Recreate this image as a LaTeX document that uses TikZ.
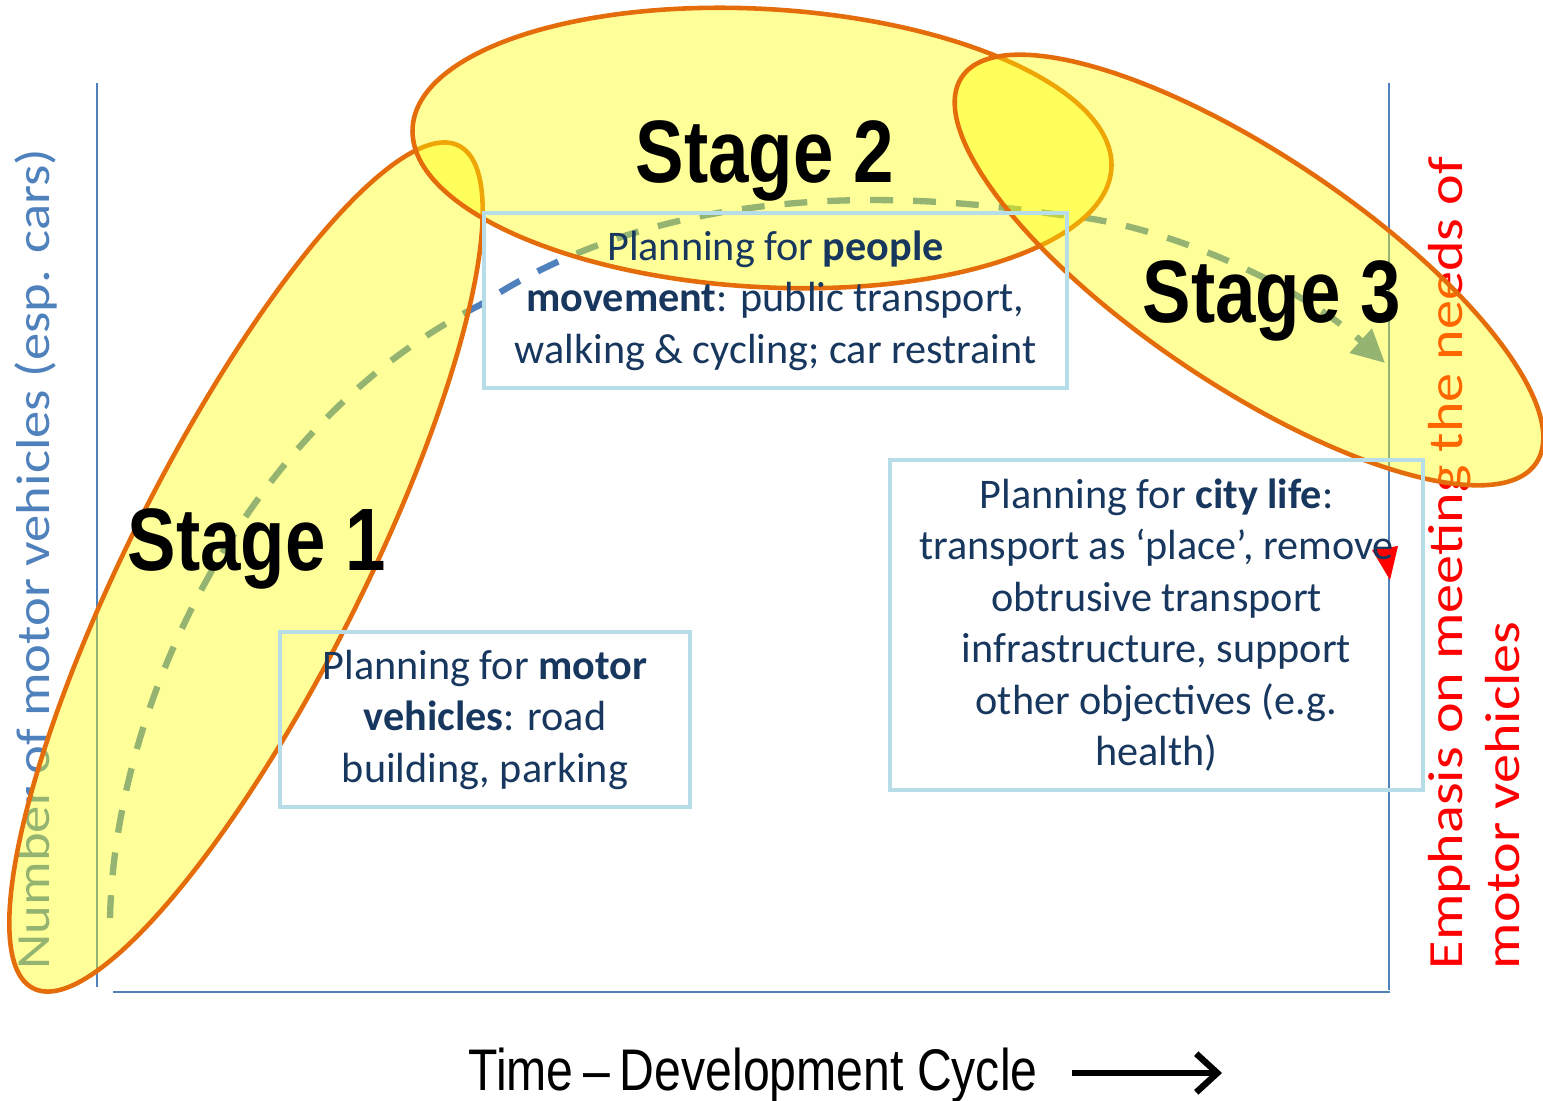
\documentclass[tikz,border=0pt]{standalone}
\usepackage{fontspec}
\setmainfont{Carlito}
\newfontfamily\stagefont[FakeStretch=0.82]{Liberation Sans}
\newfontfamily\axisfont[FakeStretch=1.15]{Carlito}
\newfontfamily\emphfont[FakeStretch=1.18]{Carlito}
\usetikzlibrary{arrows.meta}

\definecolor{axisblue}{HTML}{4F81BD}
\definecolor{boxblue}{HTML}{B7DEE8}
\definecolor{navytext}{HTML}{17375E}
\definecolor{ovalorange}{HTML}{E46C0A}
\definecolor{ovalyellow}{HTML}{FFFF00}

\tikzset{
  axisline/.style={axisblue, line width=0.6pt},
  planbox/.style={draw=boxblue, line width=1.1pt, text=navytext, align=center,
    font=\fontsize{12}{14.65}\selectfont, inner sep=0pt},
  stageoval/.style={fill=ovalyellow, fill opacity=0.4, draw=ovalorange, line width=1.3pt},
  stagelabel/.style={font=\stagefont\bfseries\fontsize{25.2}{30}\selectfont, anchor=base},
  sidelabel/.style={rotate=90, anchor=base west, inner sep=0pt},
  trend/.style={axisblue, line width=1.8pt, dash pattern=on 6.5pt off 5.7pt,
    -{Triangle[length=9.4pt,width=9pt]}}
}

\begin{document}
\begin{tikzpicture}[x=0.01cm, y=-0.01cm]
\useasboundingbox (0,0) rectangle (1543,1100);
\clip (0,0) rectangle (1543,1100);

% axis texts
\node[sidelabel, text=axisblue, font=\axisfont\fontsize{13.5}{16}\selectfont] (ylabel) at (49,970) {Number of motor vehicles (esp. cars)};
\node[sidelabel, text=red, font=\emphfont\fontsize{14}{16}\selectfont] (emphlabel) at (1462,970) {Emphasis on meeting the needs of};
\node[sidelabel, text=red, font=\emphfont\fontsize{14}{16}\selectfont] (emphlabel2) at (1519,970) {motor vehicles};

% axes
\draw[axisline] (97,83) -- (97,987);
\draw[axisline] (113,992) -- (1390,992);
\draw[axisline] (1389,83) -- (1389,990);

% development curve
\coordinate (trendstart) at (110,918);
\coordinate (trendend) at (1385,363);
\draw[trend] (trendstart) .. controls (115,700) and (250,420) .. (480,305)
  .. controls (630,205) and (830,180) .. (1060,215)
  .. controls (1160,222) and (1300,285) .. (trendend);
\fill[red] (1372,550) -- (1398,546) -- (1390,580) -- cycle;

% stages
\filldraw[stageoval, rotate around={63.2:(246,567)}] (246,567) ellipse (472 and 116);
\filldraw[stageoval, rotate around={-3.3:(762,148)}] (762,148) ellipse (350 and 139);
\filldraw[stageoval, rotate around={-33.9:(1249,270)}] (1249,270) ellipse (346 and 115);

% planning boxes
\node[planbox, minimum width=4.1cm, minimum height=1.75cm] (motorbox) at (485,719.5) {Planning for \textbf{motor}\\\textbf{vehicles}: road\\building, parking};
\node[planbox, minimum width=5.83cm, minimum height=1.75cm] (peoplebox) at (775.5,300.5) {Planning for \textbf{people}\\\textbf{movement}: public transport,\\walking \& cycling; car restraint};
\node[planbox, minimum width=5.33cm, minimum height=3.3cm] (citybox) at (1156.5,625) {Planning for \textbf{city life}:\\transport as ‘place’, remove\\obtrusive transport\\infrastructure, support\\other objectives (e.g.\\health)};

\node[stagelabel] (stage1) at (257,570) {Stage 1};
\node[stagelabel] (stage2) at (765,182) {Stage 2};
\node[stagelabel] (stage3) at (1272,322) {Stage 3};

% time axis
\node[font=\stagefont\fontsize{16.7}{20}\selectfont, anchor=base] (timelabel) at (753,1090) {Time\,–\,Development Cycle};
\coordinate (timestart) at (1072,1073);
\coordinate (timeend) at (1222,1073);
\draw[line width=1.8pt, -{Straight Barb[length=6pt,width=11pt]}] (timestart) -- (timeend);
\end{tikzpicture}
\end{document}
